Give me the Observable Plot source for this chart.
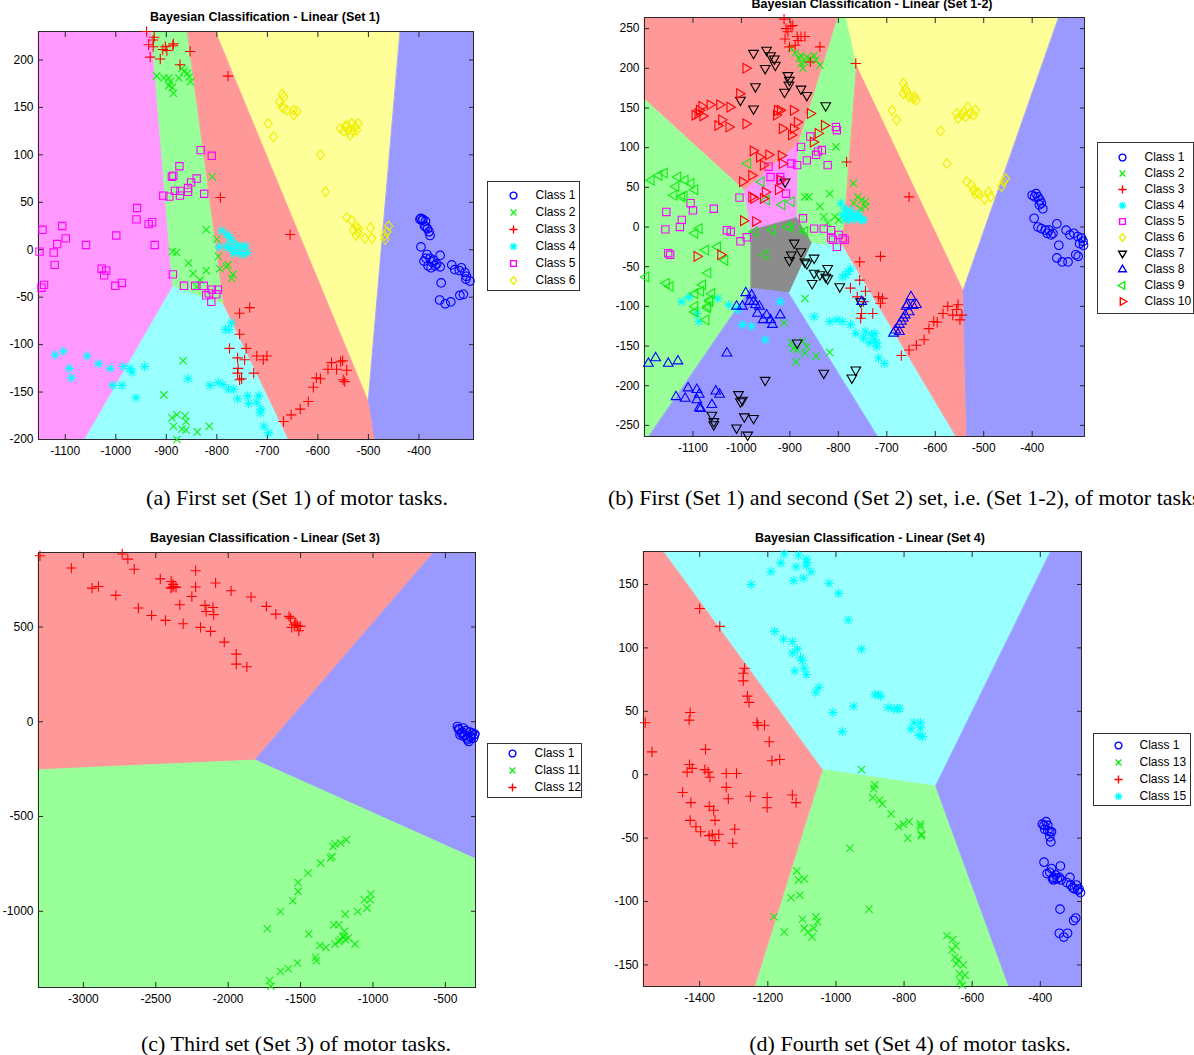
<!DOCTYPE html>
<html><head><meta charset="utf-8">
<script src="https://cdn.jsdelivr.net/npm/d3@7"></script>
<script src="https://cdn.jsdelivr.net/npm/@observablehq/plot@0.6"></script>
<style>
body{margin:0;background:#fff;}
#page{position:relative;width:1194px;height:1055px;overflow:hidden;background:#fff;font-family:"Liberation Sans",Arial,sans-serif;}
.box{position:absolute;}
.title{position:absolute;font-weight:bold;font-size:12.5px;white-space:nowrap;transform:translateX(-50%);line-height:14px;color:#000;font-family:"Liberation Sans",Arial,sans-serif;}
.cap{position:absolute;font-family:"Liberation Serif","Times New Roman",serif;font-size:22px;white-space:nowrap;line-height:24px;color:#000;}
.center{transform:translateX(-50%);}
</style></head><body><div id="page"></div>
<script>
// ---------------- DATA ----------------
// Set 1
const s1_xDomain = [-1153, -292], s1_yDomain = [-200, 230];
const s1_xTicks = [-1100,-1000,-900,-800,-700,-600,-500,-400];
const s1_yTicks = [-200,-150,-100,-50,0,50,100,150,200];
const s1_names = ["Class 1","Class 2","Class 3","Class 4","Class 5","Class 6"];
const s1_c1 = [[-396,33],[-392,32],[-387,30],[-389,25],[-383,22],[-380,19],[-378,15],[-386,24],[-394,31],[-398,32],[-396,3],[-386,-9],[-378,-9],[-371,-11],[-365,-15],[-358,-18],[-358,-6],[-356,-35],[-359,-53],[-348,-57],[-337,-55],[-335,-16],[-329,-21],[-320,-22],[-316,-19],[-309,-24],[-306,-28],[-299,-33],[-307,-31],[-319,-48],[-312,-47],[-382,-17],[-376,-19],[-390,-12],[-384,-5],[-374,-13],[-368,-17]];
const s1_c2 = [[-919,183],[-905,181],[-895,181],[-892,177],[-895,173],[-888,171],[-886,165],[-875,181],[-865,188],[-858,186],[-852,177],[-855,182],[-869,191],[-809,77],[-821,21],[-800,11],[-797,-7],[-794,-20],[-821,-22],[-781,-18],[-778,-16],[-768,-26],[-771,-30],[-888,-2],[-880,-3],[-856,-14],[-847,-25],[-833,-32],[-840,-39],[-867,-117],[-905,-153],[-889,-177],[-879,-174],[-863,-175],[-861,-181],[-886,-186],[-869,-189],[-861,-190],[-879,-200],[-839,-192],[-815,-186]];
const s1_c3 = [[-939,230],[-935,216],[-932,203],[-926,221],[-924,224],[-912,201],[-907,211],[-902,214],[-899,210],[-887,215],[-886,217],[-873,195],[-853,209],[-926,214],[-778,183],[-793,55],[-655,16],[-735,-61],[-755,-67],[-755,-89],[-775,-104],[-742,-104],[-759,-114],[-745,-116],[-758,-125],[-759,-130],[-755,-137],[-751,-136],[-727,-130],[-721,-112],[-708,-116],[-701,-112],[-668,-181],[-653,-174],[-635,-168],[-619,-160],[-609,-145],[-603,-135],[-595,-136],[-580,-126],[-573,-119],[-563,-126],[-555,-118],[-551,-117],[-550,-137],[-543,-127],[-547,-139]];
const s1_c4 = [[-790,20],[-780,16],[-775,13],[-770,9],[-780,4],[-768,1],[-760,5],[-752,3],[-743,4],[-740,-3],[-748,-5],[-756,-3],[-767,-4],[-795,3],[-777,2],[-783,-84],[-771,-77],[-775,-84],[-1120,-111],[-1104,-107],[-1092,-125],[-1088,-135],[-1057,-112],[-1034,-120],[-1011,-125],[-1006,-143],[-988,-143],[-985,-123],[-972,-125],[-968,-129],[-960,-156],[-943,-123],[-857,-136],[-813,-143],[-797,-140],[-788,-142],[-777,-147],[-767,-147],[-759,-157],[-739,-154],[-737,-162],[-721,-161],[-717,-154],[-713,-168],[-714,-172],[-707,-186],[-698,-193]];
const s1_c5 = [[-1151,-2],[-1145,21],[-1147,-40],[-1142,-37],[-1123,-3],[-1116,6],[-1121,-16],[-1106,25],[-1099,12],[-1059,5],[-1028,-20],[-1023,-27],[-1019,-22],[-1001,-38],[-999,15],[-988,-35],[-958,44],[-959,32],[-935,27],[-928,29],[-923,5],[-906,57],[-894,56],[-889,77],[-886,78],[-874,88],[-873,57],[-872,62],[-883,62],[-857,65],[-857,61],[-851,71],[-840,75],[-832,105],[-825,59],[-810,99],[-887,-26],[-865,-38],[-843,-38],[-826,-38],[-821,-48],[-816,-46],[-810,-42],[-801,-47],[-811,-55],[-798,-42]];
const s1_c6 = [[-671,164],[-667,161],[-676,156],[-671,151],[-661,147],[-648,147],[-641,146],[-648,142],[-668,149],[-698,133],[-688,119],[-556,128],[-546,130],[-540,126],[-533,133],[-530,125],[-536,121],[-520,133],[-523,126],[-549,125],[-542,131],[-526,130],[-595,100],[-585,61],[-543,34],[-533,31],[-530,21],[-523,24],[-520,18],[-524,15],[-507,12],[-496,23],[-493,12],[-467,11],[-463,19],[-460,25],[-468,15],[-520,22]];
const s1_rMagenta = [[-1153,230],[-929,230],[-887,-39],[-1061,-200],[-1153,-200]];
const s1_rGreen = [[-929,230],[-858,230],[-786,-58],[-887,-39]];
const s1_rCyan = [[-887,-39],[-786,-58],[-658,-200],[-1061,-200]];
const s1_rRed = [[-858,230],[-801,230],[-500,-158],[-487,-200],[-658,-200],[-786,-58]];
const s1_rYellow = [[-801,230],[-437,230],[-500,-158]];
const s1_rBlue = [[-437,230],[-292,230],[-292,-200],[-487,-200],[-500,-158]];

// Set 1-2
const s2_xDomain = [-1200, -292], s2_yDomain = [-264, 264];
const s2_xTicks = [-1100,-1000,-900,-800,-700,-600,-500,-400];
const s2_yTicks = [-250,-200,-150,-100,-50,0,50,100,150,200,250];
const s2_names = ["Class 1","Class 2","Class 3","Class 4","Class 5","Class 6","Class 7","Class 8","Class 9","Class 10"];
const s2_c1 = [[-400,40],[-392,42],[-388,38],[-384,34],[-381,30],[-378,23],[-396,11],[-388,0],[-381,-2],[-373,-4],[-369,-8],[-361,-10],[-349,4],[-345,-23],[-330,-4],[-322,-10],[-314,-8],[-306,-12],[-298,-14],[-295,-18],[-294,-23],[-302,-21],[-349,-39],[-338,-44],[-326,-44],[-310,-35],[-305,-37],[-365,-4],[-357,-8],[-395,38],[-385,28]];
const s2_c2 = [[-897,225],[-889,219],[-881,212],[-877,206],[-873,200],[-865,214],[-858,212],[-850,216],[-846,210],[-838,204],[-869,208],[-877,216],[-805,101],[-769,55],[-818,42],[-760,38],[-752,34],[-744,26],[-768,30],[-838,26],[-830,13],[-807,13],[-869,38],[-861,38],[-799,9],[-822,5],[-744,32],[-754,23],[-897,0],[-873,-4],[-869,-90],[-912,-121],[-897,-146],[-893,-153],[-885,-155],[-873,-144],[-865,-151],[-869,-159],[-887,-170],[-846,-163],[-818,-158]];
const s2_c3 = [[-912,262],[-908,250],[-904,246],[-898,253],[-894,254],[-910,237],[-885,240],[-877,240],[-869,240],[-901,227],[-889,229],[-883,235],[-858,208],[-838,227],[-764,206],[-783,82],[-654,38],[-756,-44],[-713,-37],[-756,-67],[-775,-77],[-761,-88],[-748,-94],[-744,-81],[-752,-109],[-754,-115],[-729,-109],[-717,-88],[-709,-90],[-713,-96],[-670,-162],[-654,-155],[-639,-149],[-623,-142],[-613,-128],[-603,-119],[-596,-120],[-584,-109],[-574,-100],[-564,-111],[-553,-98],[-549,-117],[-545,-111],[-556,-104]];
const s2_c4 = [[-795,30],[-787,23],[-783,17],[-779,13],[-772,9],[-764,11],[-756,13],[-752,9],[-748,9],[-760,17],[-768,15],[-775,21],[-791,15],[-785,9],[-785,-60],[-775,-53],[-779,-56],[-791,-63],[-1123,-94],[-1108,-88],[-1092,-109],[-1088,-119],[-1049,-90],[-1026,-98],[-1006,-102],[-998,-123],[-979,-125],[-951,-142],[-920,-94],[-1010,-104],[-850,-113],[-818,-119],[-803,-117],[-791,-119],[-775,-123],[-764,-134],[-744,-132],[-748,-140],[-732,-136],[-725,-134],[-725,-142],[-721,-151],[-717,-165],[-705,-172],[-736,-146],[-721,-146]];
const s2_c5 = [[-1155,19],[-1157,-3],[-1151,-33],[-1147,-35],[-1127,0],[-1123,9],[-1105,30],[-1100,21],[-1057,23],[-1030,-4],[-1022,-6],[-1002,-18],[-989,-13],[-1004,37],[-944,76],[-940,63],[-920,59],[-908,42],[-885,78],[-877,101],[-865,84],[-858,114],[-842,95],[-846,91],[-834,97],[-822,78],[-803,122],[-805,126],[-873,11],[-850,-2],[-830,-2],[-815,-4],[-815,-14],[-811,-16],[-803,-25],[-799,-10],[-791,-14],[-787,-16],[-920,63],[-897,80]];
const s2_c6 = [[-666,181],[-662,174],[-658,170],[-666,168],[-654,164],[-646,162],[-639,160],[-643,164],[-689,147],[-680,135],[-589,121],[-576,80],[-556,143],[-545,141],[-541,145],[-537,139],[-533,151],[-529,143],[-521,141],[-517,147],[-553,137],[-535,57],[-525,53],[-521,47],[-517,42],[-513,44],[-510,42],[-498,35],[-490,44],[-486,38],[-459,57],[-455,61],[-463,51]];
const s2_c7 = [[-975,219],[-948,223],[-940,216],[-932,212],[-930,204],[-951,200],[-904,191],[-901,185],[-902,179],[-971,177],[-911,170],[-877,174],[-865,166],[-1002,160],[-975,149],[-826,153],[-910,57],[-891,-20],[-897,-35],[-877,-31],[-901,-42],[-869,-44],[-865,-46],[-850,-39],[-850,-58],[-854,-71],[-838,-60],[-822,-52],[-822,-65],[-826,-63],[-797,-75],[-754,-94],[-885,-146],[-830,-184],[-772,-190],[-764,-180],[-951,-193],[-1006,-211],[-1002,-220],[-998,-218],[-975,-241],[-994,-239],[-1010,-253],[-987,-262],[-1061,-237],[-1057,-245],[-1057,-249]];
const s2_c8 = [[-991,-83],[-979,-86],[-998,-100],[-983,-94],[-975,-94],[-971,-98],[-963,-100],[-967,-109],[-948,-111],[-940,-117],[-936,-123],[-920,-111],[-1010,-100],[-1030,-159],[-955,-117],[-686,-134],[-682,-130],[-674,-123],[-670,-119],[-666,-115],[-662,-111],[-660,-100],[-657,-98],[-650,-88],[-646,-99],[-639,-98],[-654,-107],[-674,-132],[-752,-94],[-1192,-172],[-1177,-165],[-1151,-172],[-1131,-169],[-1135,-214],[-1110,-203],[-1116,-216],[-1092,-205],[-1087,-211],[-1092,-218],[-1087,-228],[-1084,-229],[-1061,-224],[-1053,-207],[-1045,-211]];
const s2_c9 = [[-1186,59],[-1170,65],[-1159,68],[-1131,63],[-1116,59],[-1135,51],[-1104,55],[-1139,40],[-1123,38],[-1118,39],[-1096,47],[-1087,-2],[-1096,-8],[-1074,-29],[-1049,-25],[-1034,-42],[-1197,-63],[-1155,-71],[-1147,-75],[-1084,-81],[-1080,-73],[-1069,-58],[-1061,-84],[-1065,-94],[-1069,-100],[-1096,-100],[-1096,-107],[-1073,-117],[-1070,-102],[-1065,-92],[-1096,-84],[-987,80],[-959,57],[-948,34],[-916,28],[-897,32],[-936,-4],[-904,0],[-869,-6],[-973,-6],[-951,-35]];
const s2_c10 = [[-1096,141],[-1090,143],[-1087,147],[-1082,152],[-1080,140],[-1065,154],[-1045,154],[-1024,151],[-1049,128],[-1041,135],[-1026,126],[-991,130],[-991,200],[-1004,168],[-926,147],[-928,141],[-920,147],[-893,147],[-885,132],[-893,124],[-916,124],[-897,116],[-858,143],[-842,118],[-829,128],[-852,107],[-976,96],[-998,57],[-979,65],[-963,88],[-944,91],[-955,78],[-918,90],[-916,80],[-975,36],[-979,38],[-955,36],[-951,44],[-924,47],[-920,59],[-996,8],[-971,7],[-1092,-37],[-1043,-35]];
const s2_rRed1 = [[-1200,264],[-800,264],[-882,105],[-994,46],[-1200,161]];
const s2_rGreen1 = [[-1200,161],[-994,46],[-980,-4],[-980,-77],[-1191,-264],[-1200,-264]];
const s2_rMagenta = [[-994,46],[-882,105],[-885,12],[-980,-4]];
const s2_rGray = [[-980,-4],[-885,12],[-854,-20],[-901,-83],[-980,-77]];
const s2_rBlue1 = [[-980,-77],[-901,-83],[-717,-264],[-1191,-264]];
const s2_rCyan = [[-901,-83],[-854,-20],[-791,-23],[-557,-264],[-717,-264]];
const s2_rGreen2 = [[-800,264],[-783,264],[-762,204],[-791,-23],[-854,-20],[-885,12],[-882,105]];
const s2_rRed2 = [[-762,204],[-542,-79],[-535,-264],[-557,-264],[-791,-23]];
const s2_rYellow = [[-783,264],[-345,264],[-542,-79],[-762,204]];
const s2_rBlue2 = [[-345,264],[-292,264],[-292,-264],[-535,-264],[-542,-79]];

// Set 3
const s3_xDomain = [-3310, -292], s3_yDomain = [-1402, 893];
const s3_xTicks = [-3000,-2500,-2000,-1500,-1000,-500];
const s3_yTicks = [-1000,-500,0,500];
const s3_names = ["Class 1","Class 11","Class 12"];
const s3_c1 = [[-417,-25],[-404,-42],[-391,-60],[-378,-33],[-365,-69],[-352,-86],[-339,-104],[-326,-77],[-313,-60],[-300,-69],[-331,-55],[-357,-47],[-383,-55],[-409,-37],[-347,-95],[-321,-86],[-399,-69],[-373,-77],[-305,-86],[-296,-65]];
const s3_c11 = [[-1184,-623],[-1223,-640],[-1262,-645],[-1275,-658],[-1283,-711],[-1293,-719],[-1361,-746],[-1449,-798],[-1517,-848],[-1517,-895],[-1554,-944],[-1639,-1001],[-1730,-1092],[-1015,-909],[-1020,-939],[-1041,-983],[-1059,-939],[-1106,-1001],[-1192,-1015],[-1236,-1071],[-1270,-1071],[-1197,-1106],[-1210,-1133],[-1223,-1150],[-1171,-1141],[-1236,-1159],[-1262,-1173],[-1124,-1173],[-1325,-1191],[-1366,-1180],[-1397,-1243],[-1392,-1261],[-1444,-1120],[-1522,-1273],[-1585,-1303],[-1639,-1317],[-1715,-1365],[-1705,-1395],[-1200,-1130],[-1190,-1150]];
const s3_c12 = [[-3300,876],[-3083,811],[-2940,705],[-2896,714],[-2776,667],[-2732,885],[-2693,858],[-2649,805],[-2620,600],[-2529,561],[-2469,754],[-2433,535],[-2394,740],[-2389,709],[-2376,714],[-2360,709],[-2334,617],[-2311,517],[-2251,661],[-2225,797],[-2225,711],[-2191,498],[-2160,614],[-2152,582],[-2121,477],[-2105,603],[-2100,565],[-2087,732],[-2027,420],[-1980,691],[-1944,357],[-1944,304],[-1871,290],[-1842,658],[-1736,609],[-1671,568],[-1580,556],[-1569,547],[-1561,498],[-1543,512],[-1533,521],[-1522,508],[-1512,480],[-1502,503],[-2380,725],[-2395,705]];
const s3_rRed = [[-3310,893],[-580,893],[-1814,-202],[-3310,-253]];
const s3_rBlue = [[-580,893],[-292,893],[-292,-723],[-1814,-202]];
const s3_rGreen = [[-3310,-253],[-1814,-202],[-292,-723],[-292,-1402],[-3310,-1402]];

// Set 4
const s4_xDomain = [-1565, -279], s4_yDomain = [-167, 176];
const s4_xTicks = [-1400,-1200,-1000,-800,-600,-400];
const s4_yTicks = [-150,-100,-50,0,50,100,150];
const s4_names = ["Class 1","Class 13","Class 14","Class 15"];
const s4_c1 = [[-394,-39],[-389,-40],[-387,-43],[-383,-37],[-378,-40],[-372,-45],[-372,-49],[-369,-53],[-367,-45],[-378,-44],[-389,-69],[-380,-78],[-372,-77],[-367,-74],[-364,-82],[-361,-81],[-355,-79],[-350,-82],[-361,-83],[-341,-72],[-339,-83],[-344,-81],[-313,-81],[-322,-85],[-305,-89],[-294,-87],[-286,-90],[-282,-93],[-290,-91],[-300,-90],[-311,-87],[-342,-106],[-344,-125],[-331,-128],[-320,-125],[-302,-115],[-296,-113]];
const s4_c13 = [[-925,4],[-886,-8],[-889,-11],[-892,-18],[-872,-20],[-864,-23],[-838,-31],[-816,-41],[-802,-39],[-785,-37],[-752,-39],[-752,-41],[-749,-47],[-749,-48],[-789,-50],[-959,-58],[-1115,-76],[-1110,-83],[-1093,-82],[-1132,-97],[-1106,-95],[-1182,-112],[-1152,-124],[-1098,-114],[-1093,-121],[-1082,-124],[-1070,-128],[-1065,-121],[-1059,-112],[-1054,-116],[-903,-106],[-674,-127],[-657,-130],[-648,-135],[-659,-138],[-651,-144],[-646,-149],[-640,-146],[-637,-157],[-626,-150],[-621,-158],[-629,-166],[-635,-163]];
const s4_c14 = [[-1400,131],[-1341,117],[-1268,84],[-1272,80],[-1272,74],[-1260,62],[-1255,57],[-1428,49],[-1431,43],[-1560,41],[-1540,18],[-1383,20],[-1232,41],[-1229,39],[-1210,39],[-1196,26],[-1188,11],[-1165,12],[-1430,8],[-1422,5],[-1437,2],[-1385,4],[-1375,2],[-1370,-2],[-1322,1],[-1292,1],[-1450,-14],[-1426,-22],[-1322,-10],[-1316,-19],[-1251,-17],[-1202,-18],[-1202,-26],[-1128,-16],[-1117,-22],[-1428,-36],[-1411,-41],[-1397,-45],[-1372,-25],[-1359,-28],[-1355,-36],[-1363,-47],[-1372,-48],[-1355,-52],[-1344,-47],[-1297,-43],[-1303,-54]];
const s4_c15 = [[-1152,174],[-1110,173],[-1087,170],[-1085,167],[-1087,165],[-1117,164],[-1162,167],[-1191,160],[-1249,150],[-1124,153],[-1095,155],[-1073,160],[-1020,151],[-992,143],[-964,122],[-1180,113],[-1154,107],[-1128,105],[-1128,96],[-1113,99],[-1104,92],[-1098,90],[-1093,84],[-1121,82],[-1087,79],[-1050,69],[-1059,65],[-1009,49],[-981,34],[-948,54],[-925,99],[-886,63],[-875,63],[-869,62],[-847,53],[-830,52],[-813,52],[-819,52],[-771,41],[-780,36],[-752,41],[-752,37],[-756,31],[-746,30]];
const s4_rRed = [[-1565,176],[-1504,176],[-1037,4],[-1236,-167],[-1565,-167]];
const s4_rCyan = [[-1504,176],[-369,176],[-707,-9],[-1037,4]];
const s4_rGreen = [[-1037,4],[-707,-9],[-492,-167],[-1236,-167]];
const s4_rBlue = [[-369,176],[-279,176],[-279,-167],[-492,-167],[-707,-9]];

// ---------------- STYLE ----------------
const REG = {blue:"#9999ff", red:"#ff9999", green:"#99ff99", yellow:"#ffff99", cyan:"#99ffff", magenta:"#ff99ff", gray:"#8c8c8c"};
const COL = {blue:"#0000ff", green:"#11ee11", red:"#ff0000", cyan:"#00ffff", magenta:"#ff00ff", yellow:"#eeee00", black:"#000000"};
const R = s => Math.sqrt(s / Math.PI);
const SYM = {
  circle: {draw(c, s){const r = R(s); c.moveTo(r, 0); c.arc(0, 0, r, 0, 2*Math.PI);}},
  x: {draw(c, s){const r = R(s)*0.85; c.moveTo(-r,-r); c.lineTo(r,r); c.moveTo(-r,r); c.lineTo(r,-r);}},
  plus: {draw(c, s){const r = R(s)*1.2; c.moveTo(-r,0); c.lineTo(r,0); c.moveTo(0,-r); c.lineTo(0,r);}},
  star: {draw(c, s){const r = R(s)*1.1, q = r*0.72; c.moveTo(-r,0); c.lineTo(r,0); c.moveTo(0,-r); c.lineTo(0,r); c.moveTo(-q,-q); c.lineTo(q,q); c.moveTo(-q,q); c.lineTo(q,-q);}},
  square: {draw(c, s){const r = R(s)*0.85; c.moveTo(-r,-r); c.lineTo(r,-r); c.lineTo(r,r); c.lineTo(-r,r); c.closePath();}},
  diamond: {draw(c, s){const r = R(s)*1.15; c.moveTo(0,-r); c.lineTo(r*0.8,0); c.lineTo(0,r); c.lineTo(-r*0.8,0); c.closePath();}},
  triDown: {draw(c, s){const r = R(s)*1.3; c.moveTo(0,r); c.lineTo(-0.87*r,-0.5*r); c.lineTo(0.87*r,-0.5*r); c.closePath();}},
  triUp: {draw(c, s){const r = R(s)*1.3; c.moveTo(0,-r); c.lineTo(-0.87*r,0.5*r); c.lineTo(0.87*r,0.5*r); c.closePath();}},
  triLeft: {draw(c, s){const r = R(s)*1.3; c.moveTo(-r,0); c.lineTo(0.5*r,-0.87*r); c.lineTo(0.5*r,0.87*r); c.closePath();}},
  triRight: {draw(c, s){const r = R(s)*1.3; c.moveTo(r,0); c.lineTo(-0.5*r,-0.87*r); c.lineTo(-0.5*r,0.87*r); c.closePath();}}
};

const page = document.getElementById("page");
const fmt = d => String(d);

function panel(o) {
  const marks = [];
  for (const [pts, color] of o.regions) {
    marks.push(Plot.line(pts, {x: d => d[0], y: d => d[1], curve: "linear-closed", fill: color, stroke: color, strokeWidth: 0.8}));
  }
  marks.push(Plot.frame({stroke: "#2a2a2a", strokeWidth: 1}));
  marks.push(Plot.axisX(o.xTicks, {anchor: "bottom", tickSize: 0, tickPadding: 7, tickFormat: fmt, fontSize: 12, label: null}));
  marks.push(Plot.axisX(o.xTicks, {anchor: "bottom", tickSize: -5, text: null, label: null, stroke: "#2a2a2a"}));
  marks.push(Plot.axisX(o.xTicks, {anchor: "top", tickSize: -5, text: null, label: null, stroke: "#2a2a2a"}));
  marks.push(Plot.axisY(o.yTicks, {anchor: "left", tickSize: 0, tickPadding: 5, tickFormat: fmt, fontSize: 12, label: null}));
  marks.push(Plot.axisY(o.yTicks, {anchor: "left", tickSize: -5, text: null, label: null, stroke: "#2a2a2a"}));
  marks.push(Plot.axisY(o.yTicks, {anchor: "right", tickSize: -5, text: null, label: null, stroke: "#2a2a2a"}));
  for (const [pts, sym, color] of o.classes) {
    marks.push(Plot.dot(pts, {x: d => d[0], y: d => d[1], symbol: SYM[sym], stroke: color, fill: "none", r: 4.3, strokeWidth: 1.1}));
  }
  const svg = Plot.plot({
    width: o.width, height: o.height,
    marginTop: o.m[0], marginRight: o.m[1], marginBottom: o.m[2], marginLeft: o.m[3],
    x: {domain: o.xDomain, label: null},
    y: {domain: o.yDomain, label: null},
    style: {fontFamily: "'Liberation Sans', Arial, sans-serif", fontSize: "12px", color: "#000", background: "transparent", overflow: "visible"},
    marks
  });
  const div = document.createElement("div");
  div.className = "box";
  div.style.left = o.left + "px"; div.style.top = o.top + "px";
  div.appendChild(svg);
  page.appendChild(div);
}

function legend(o) {
  const marks = [Plot.frame({stroke: "#333", fill: "white", strokeWidth: 1})];
  o.names.forEach((n, i) => {
    marks.push(Plot.dot([n], {y: d => d, frameAnchor: "left", dx: o.symX, symbol: SYM[o.syms[i]], stroke: o.colors[i], fill: "none", r: 3.4, strokeWidth: 1.4}));
  });
  marks.push(Plot.text(o.names, {y: d => d, text: d => d, frameAnchor: "left", dx: o.textX, textAnchor: "start", fontSize: 12, fill: "#000"}));
  const svg = Plot.plot({
    width: o.width, height: o.height, margin: 0,
    y: {type: "point", domain: o.names, range: [o.y0, o.y1], padding: 0, axis: null},
    style: {fontFamily: "'Liberation Sans', Arial, sans-serif", fontSize: "12px", background: "transparent", overflow: "visible"},
    marks
  });
  const div = document.createElement("div");
  div.className = "box";
  div.style.left = o.left + "px"; div.style.top = o.top + "px";
  div.appendChild(svg);
  page.appendChild(div);
}

function text(cls, str, left, top, center) {
  const d = document.createElement("div");
  d.className = cls + (center && cls === "cap" ? " center" : "");
  d.textContent = str;
  d.style.left = left + "px"; d.style.top = top + "px";
  page.appendChild(d);
}

// ---------------- PANELS ----------------
panel({left: 0, top: 0, width: 480, height: 470, m: [31, 7, 31, 38],
  xDomain: s1_xDomain, yDomain: s1_yDomain, xTicks: s1_xTicks, yTicks: s1_yTicks,
  regions: [[s1_rMagenta, REG.magenta], [s1_rGreen, REG.green], [s1_rCyan, REG.cyan], [s1_rRed, REG.red], [s1_rYellow, REG.yellow], [s1_rBlue, REG.blue]],
  classes: [[s1_c1, "circle", COL.blue], [s1_c2, "x", COL.green], [s1_c3, "plus", COL.red], [s1_c4, "star", COL.cyan], [s1_c5, "square", COL.magenta], [s1_c6, "diamond", COL.yellow]]
});
legend({left: 487, top: 181, width: 92, height: 109, y0: 12, y1: 101, symX: 26, textX: 48, names: s1_names,
  syms: ["circle","x","plus","star","square","diamond"], colors: [COL.blue, COL.green, COL.red, COL.cyan, COL.magenta, COL.yellow]});

panel({left: 600, top: 0, width: 490, height: 470, m: [17, 6, 34, 44],
  xDomain: s2_xDomain, yDomain: s2_yDomain, xTicks: s2_xTicks, yTicks: s2_yTicks,
  regions: [[s2_rRed1, REG.red], [s2_rGreen1, REG.green], [s2_rMagenta, REG.magenta], [s2_rGray, REG.gray], [s2_rBlue1, REG.blue], [s2_rCyan, REG.cyan], [s2_rGreen2, REG.green], [s2_rRed2, REG.red], [s2_rYellow, REG.yellow], [s2_rBlue2, REG.blue]],
  classes: [[s2_c1, "circle", COL.blue], [s2_c2, "x", COL.green], [s2_c3, "plus", COL.red], [s2_c4, "star", COL.cyan], [s2_c5, "square", COL.magenta], [s2_c6, "diamond", COL.yellow], [s2_c7, "triDown", COL.black], [s2_c8, "triUp", COL.blue], [s2_c9, "triLeft", COL.green], [s2_c10, "triRight", COL.red]]
});
legend({left: 1097, top: 142, width: 96, height: 171, y0: 11, y1: 162, symX: 25, textX: 47, names: s2_names,
  syms: ["circle","x","plus","star","square","diamond","triDown","triUp","triLeft","triRight"],
  colors: [COL.blue, COL.green, COL.red, COL.cyan, COL.magenta, COL.yellow, COL.black, COL.blue, COL.green, COL.red]});

panel({left: 0, top: 520, width: 480, height: 500, m: [32, 5, 33, 38],
  xDomain: s3_xDomain, yDomain: s3_yDomain, xTicks: s3_xTicks, yTicks: s3_yTicks,
  regions: [[s3_rRed, REG.red], [s3_rBlue, REG.blue], [s3_rGreen, REG.green]],
  classes: [[s3_c1, "circle", COL.blue], [s3_c11, "x", COL.green], [s3_c12, "plus", COL.red]]
});
legend({left: 487, top: 743, width: 94, height: 54, y0: 10, y1: 44, symX: 25, textX: 47, names: s3_names,
  syms: ["circle","x","plus"], colors: [COL.blue, COL.green, COL.red]});

panel({left: 600, top: 520, width: 490, height: 500, m: [31, 9, 34, 43],
  xDomain: s4_xDomain, yDomain: s4_yDomain, xTicks: s4_xTicks, yTicks: s4_yTicks,
  regions: [[s4_rRed, REG.red], [s4_rCyan, REG.cyan], [s4_rGreen, REG.green], [s4_rBlue, REG.blue]],
  classes: [[s4_c1, "circle", COL.blue], [s4_c13, "x", COL.green], [s4_c14, "plus", COL.red], [s4_c15, "star", COL.cyan]]
});
legend({left: 1093, top: 733, width: 97, height: 72, y0: 12, y1: 63, symX: 25, textX: 46, names: s4_names,
  syms: ["circle","x","plus","star"], colors: [COL.blue, COL.green, COL.red, COL.cyan]});

// ---------------- TEXT ----------------
text("title", "Bayesian Classification - Linear (Set 1)", 265, 10);
text("title", "Bayesian Classification - Linear (Set 1-2)", 872, -3);
text("title", "Bayesian Classification - Linear (Set 3)", 265, 531);
text("title", "Bayesian Classification - Linear (Set 4)", 870, 531);
text("cap", "(a) First set (Set 1) of motor tasks.", 297, 486, true);
text("cap", "(b) First (Set 1) and second (Set 2) set, i.e. (Set 1-2), of motor tasks.", 608, 486, false);
text("cap", "(c) Third set (Set 3) of motor tasks.", 296, 1032, true);
text("cap", "(d) Fourth set (Set 4) of motor tasks.", 910, 1032, true);
</script></body></html>
